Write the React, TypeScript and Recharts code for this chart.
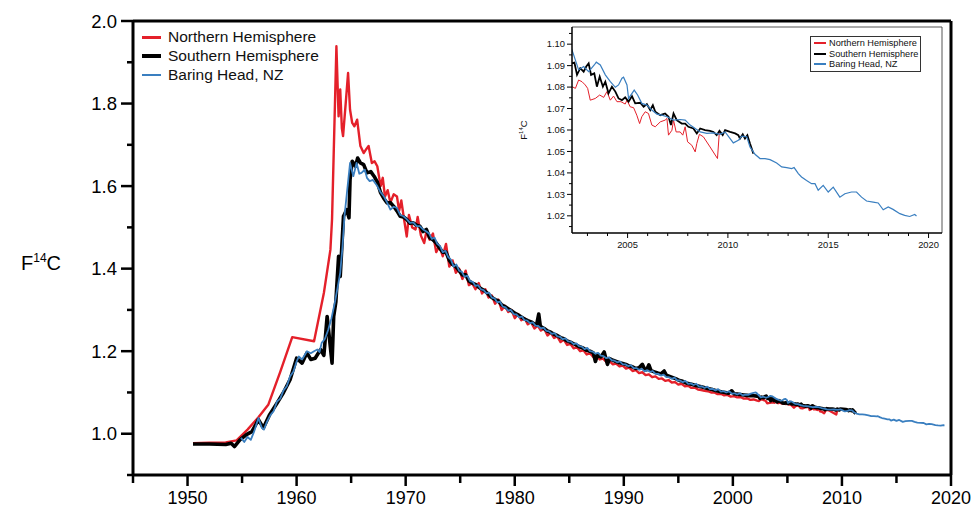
import { LineChart, Line, XAxis, YAxis, ReferenceLine, Legend } from 'recharts';

// [decimal year, F14C]
const northern: [number, number][] = [
  [1950.5, 0.977], [1952, 0.978], [1953.5, 0.979], [1954.5, 0.984], [1955.5, 1.01], [1956.5, 1.04],
  [1957.4, 1.07], [1958.5, 1.15], [1959.6, 1.234], [1961.6, 1.224], [1962.5, 1.341], [1963.1, 1.446],
  [1963.25, 1.52], [1963.65, 1.939], [1963.85, 1.769], [1964.0, 1.834], [1964.15, 1.74], [1964.26, 1.721],
  [1964.5, 1.8], [1964.72, 1.874], [1964.9, 1.785], [1965.1, 1.753], [1965.3, 1.745], [1965.55, 1.761],
  [1965.85, 1.697], [1966.15, 1.68], [1966.4, 1.69], [1966.6, 1.697], [1966.9, 1.656], [1967.15, 1.66],
  [1967.4, 1.648], [1967.7, 1.6], [1967.9, 1.62], [1968.1, 1.575], [1968.35, 1.59], [1968.6, 1.56],
  [1968.9, 1.58], [1969.2, 1.575], [1969.4, 1.54], [1969.6, 1.565], [1969.85, 1.52], [1970.1, 1.478],
  [1970.3, 1.53], [1970.6, 1.5], [1970.9, 1.495], [1971.1, 1.525], [1971.4, 1.48], [1971.7, 1.462],
  [1971.9, 1.49], [1972.2, 1.47], [1972.5, 1.485], [1972.8, 1.44], [1973.1, 1.455], [1973.4, 1.43],
  [1973.7, 1.46], [1974.0, 1.405], [1974.3, 1.42], [1974.6, 1.39], [1974.9, 1.4], [1975.2, 1.375],
  [1975.5, 1.395], [1975.8, 1.36], [1976.1, 1.365], [1976.4, 1.35], [1976.7, 1.365], [1977.0, 1.34],
  [1977.3, 1.35], [1977.6, 1.33], [1977.9, 1.335], [1978.2, 1.315], [1978.5, 1.325], [1978.8, 1.3],
  [1979.1, 1.31], [1979.4, 1.295], [1979.7, 1.3], [1980.0, 1.28], [1980.3, 1.29], [1980.6, 1.275],
  [1980.9, 1.28], [1981.2, 1.265], [1981.5, 1.27], [1981.8, 1.255], [1982.1, 1.262], [1982.4, 1.25],
  [1982.7, 1.255], [1983.0, 1.238], [1983.3, 1.245], [1983.6, 1.232], [1983.9, 1.236], [1984.2, 1.222],
  [1984.5, 1.228], [1984.8, 1.215], [1985.1, 1.218], [1985.4, 1.207], [1985.7, 1.21], [1986.0, 1.2],
  [1986.3, 1.202], [1986.6, 1.192], [1986.9, 1.195], [1987.2, 1.186], [1987.5, 1.188], [1987.8, 1.18],
  [1988.1, 1.182], [1988.4, 1.174], [1988.7, 1.176], [1989.0, 1.168], [1989.3, 1.17], [1989.6, 1.163],
  [1989.9, 1.165], [1990.2, 1.158], [1990.5, 1.16], [1990.8, 1.152], [1991.1, 1.154], [1991.4, 1.147],
  [1991.7, 1.149], [1992.0, 1.142], [1992.3, 1.144], [1992.6, 1.137], [1992.9, 1.139], [1993.2, 1.133],
  [1993.5, 1.134], [1993.8, 1.128], [1994.1, 1.13], [1994.4, 1.124], [1994.7, 1.125], [1995.0, 1.119],
  [1995.3, 1.121], [1995.6, 1.115], [1995.9, 1.116], [1996.2, 1.111], [1996.5, 1.112], [1996.8, 1.107],
  [1997.1, 1.106], [1997.4, 1.104], [1997.7, 1.103], [1998.0, 1.1], [1998.3, 1.1], [1998.6, 1.096],
  [1998.9, 1.097], [1999.2, 1.093], [1999.5, 1.094], [1999.8, 1.09], [2000.1, 1.091], [2000.4, 1.088],
  [2000.7, 1.089], [2001.0, 1.085], [2001.3, 1.086], [2001.6, 1.082], [2001.9, 1.083],
  [2002.23, 1.0802], [2002.4, 1.0794], [2002.56, 1.0833], [2002.73, 1.0825], [2002.89, 1.081],
  [2003.01, 1.0794], [2003.14, 1.0739], [2003.39, 1.0747], [2003.61, 1.0763], [2003.81, 1.0752],
  [2003.97, 1.0779], [2004.14, 1.0739], [2004.3, 1.0758], [2004.47, 1.0732], [2004.67, 1.0732],
  [2004.88, 1.0721], [2004.97, 1.0739], [2005.13, 1.0708], [2005.3, 1.0704], [2005.46, 1.0669],
  [2005.6, 1.063], [2005.71, 1.0662], [2005.88, 1.0685], [2006.04, 1.0677], [2006.21, 1.0623],
  [2006.38, 1.0615], [2006.63, 1.0638], [2006.87, 1.0646], [2006.96, 1.0654], [2007.04, 1.0576],
  [2007.21, 1.0599], [2007.29, 1.0646], [2007.42, 1.0591], [2007.62, 1.0591], [2007.75, 1.0576],
  [2007.87, 1.0615], [2007.99, 1.0545], [2008.2, 1.0529], [2008.37, 1.0498], [2008.45, 1.0537],
  [2008.58, 1.058], [2008.78, 1.0568], [2009.11, 1.0521], [2009.48, 1.0467], [2009.58, 1.0599],
];

const southern: [number, number][] = [
  [1950.5, 0.975], [1952, 0.975], [1953.5, 0.974], [1954.0, 0.977], [1954.3, 0.969], [1954.8, 0.985],
  [1955.4, 0.998], [1955.9, 1.005], [1956.5, 1.034], [1956.95, 1.014], [1957.5, 1.045], [1958.2, 1.074],
  [1958.8, 1.1], [1959.4, 1.131], [1960.0, 1.183], [1960.5, 1.171], [1960.95, 1.196], [1961.3, 1.18],
  [1961.7, 1.183], [1962.2, 1.204], [1962.5, 1.19], [1962.8, 1.284], [1963.25, 1.171], [1963.4, 1.284],
  [1963.6, 1.32], [1963.85, 1.43], [1964.0, 1.381], [1964.3, 1.527], [1964.6, 1.543], [1964.8, 1.523],
  [1964.9, 1.616], [1965.1, 1.66], [1965.4, 1.648], [1965.6, 1.668], [1965.85, 1.656], [1966.15, 1.652],
  [1966.45, 1.632], [1966.8, 1.635], [1967.1, 1.624], [1967.4, 1.61], [1967.7, 1.584], [1968.0, 1.57],
  [1968.3, 1.559], [1968.6, 1.56], [1968.9, 1.551], [1969.2, 1.54], [1969.5, 1.527], [1969.8, 1.525],
  [1970.1, 1.519], [1970.4, 1.51], [1970.7, 1.511], [1971.0, 1.505], [1971.3, 1.503], [1971.6, 1.49],
  [1971.9, 1.495], [1972.2, 1.475], [1972.5, 1.47], [1972.8, 1.462], [1973.1, 1.45], [1973.4, 1.44],
  [1973.7, 1.44], [1974.0, 1.42], [1974.3, 1.41], [1974.6, 1.405], [1974.9, 1.395], [1975.2, 1.385],
  [1975.5, 1.385], [1975.8, 1.37], [1976.1, 1.365], [1976.4, 1.362], [1976.7, 1.355], [1977.0, 1.35],
  [1977.3, 1.345], [1977.6, 1.338], [1977.9, 1.33], [1978.2, 1.325], [1978.5, 1.322], [1978.8, 1.312],
  [1979.1, 1.308], [1979.4, 1.303], [1979.7, 1.298], [1980.0, 1.292], [1980.3, 1.288], [1980.6, 1.283],
  [1980.9, 1.278], [1981.2, 1.274], [1981.5, 1.271], [1981.8, 1.266], [1982.0, 1.263], [1982.2, 1.29],
  [1982.35, 1.26], [1982.7, 1.255], [1983.0, 1.249], [1983.3, 1.246], [1983.6, 1.241], [1983.9, 1.238],
  [1984.2, 1.233], [1984.5, 1.23], [1984.8, 1.225], [1985.1, 1.222], [1985.4, 1.218], [1985.7, 1.214],
  [1986.0, 1.21], [1986.3, 1.207], [1986.6, 1.202], [1986.9, 1.2], [1987.2, 1.196], [1987.4, 1.175],
  [1987.6, 1.192], [1987.9, 1.186], [1988.2, 1.198], [1988.5, 1.168], [1988.7, 1.182], [1989.0, 1.178],
  [1989.3, 1.175], [1989.6, 1.172], [1989.9, 1.17], [1990.2, 1.168], [1990.5, 1.164], [1990.8, 1.162],
  [1991.1, 1.158], [1991.4, 1.16], [1991.7, 1.168], [1991.9, 1.157], [1992.1, 1.155], [1992.3, 1.167],
  [1992.5, 1.153], [1992.8, 1.15], [1993.1, 1.147], [1993.4, 1.145], [1993.7, 1.152], [1993.9, 1.142],
  [1994.2, 1.139], [1994.5, 1.136], [1994.8, 1.133], [1995.1, 1.129], [1995.4, 1.127], [1995.7, 1.123],
  [1996.0, 1.121], [1996.3, 1.119], [1996.6, 1.117], [1996.9, 1.115], [1997.2, 1.113], [1997.5, 1.111],
  [1997.8, 1.109], [1998.1, 1.107], [1998.4, 1.105], [1998.7, 1.103], [1999.0, 1.101], [1999.3, 1.1],
  [1999.6, 1.098], [1999.9, 1.104], [2000.1, 1.097], [2000.4, 1.096], [2000.7, 1.095], [2001.0, 1.094],
  [2001.3, 1.093], [2001.6, 1.092], [2001.9, 1.092],
  [2002.23, 1.0911], [2002.35, 1.0914], [2002.48, 1.0857], [2002.64, 1.0888], [2002.81, 1.0872],
  [2002.94, 1.0896], [2003.06, 1.0911], [2003.18, 1.0857], [2003.34, 1.0864], [2003.47, 1.0802],
  [2003.61, 1.0849], [2003.77, 1.0802], [2003.89, 1.0825], [2004.05, 1.0771], [2004.22, 1.0802],
  [2004.39, 1.0779], [2004.55, 1.0747], [2004.72, 1.0739], [2004.88, 1.0752], [2005.05, 1.0732],
  [2005.22, 1.0758], [2005.38, 1.0724], [2005.63, 1.0727], [2005.8, 1.0708], [2005.96, 1.0721],
  [2006.13, 1.0693], [2006.26, 1.0716], [2006.38, 1.0685], [2006.63, 1.0669], [2006.87, 1.0677],
  [2007.04, 1.0662], [2007.16, 1.0623], [2007.29, 1.0677], [2007.45, 1.0646], [2007.7, 1.063],
  [2007.87, 1.063], [2008.03, 1.0615], [2008.28, 1.0607], [2008.45, 1.0584], [2008.62, 1.0607],
  [2008.86, 1.0599], [2009.11, 1.0596], [2009.28, 1.0591], [2009.44, 1.0576], [2009.58, 1.0596],
  [2009.74, 1.0576], [2009.86, 1.0599], [2010.11, 1.0591], [2010.36, 1.0584], [2010.52, 1.0576],
  [2010.6, 1.056], [2010.74, 1.058], [2010.85, 1.056], [2010.97, 1.0576], [2011.1, 1.0537],
  [2011.27, 1.049],
];

const baringHead: [number, number][] = [
  [1954.9, 0.99], [1955.2, 0.98], [1955.5, 0.992], [1955.8, 0.985], [1956.1, 1.005], [1956.5, 1.038],
  [1956.8, 1.015], [1957.0, 1.01], [1957.3, 1.03], [1957.6, 1.045], [1957.9, 1.055], [1958.2, 1.078],
  [1958.5, 1.085], [1958.8, 1.105], [1959.1, 1.115], [1959.4, 1.139], [1959.7, 1.15], [1960.0, 1.175],
  [1960.2, 1.187], [1960.5, 1.18], [1960.95, 1.2], [1961.3, 1.195], [1961.6, 1.2], [1961.9, 1.204],
  [1962.1, 1.198], [1962.3, 1.22], [1962.6, 1.23], [1962.9, 1.252], [1963.2, 1.28], [1963.5, 1.317],
  [1963.8, 1.36], [1964.0, 1.39], [1964.2, 1.45], [1964.4, 1.53], [1964.6, 1.58], [1964.9, 1.656],
  [1965.2, 1.624], [1965.5, 1.656], [1965.75, 1.63], [1965.95, 1.632], [1966.25, 1.64], [1966.45, 1.62],
  [1966.7, 1.612], [1967.0, 1.615], [1967.4, 1.6], [1967.7, 1.585], [1968.0, 1.575], [1968.3, 1.56],
  [1968.6, 1.543], [1968.9, 1.55], [1969.2, 1.547], [1969.5, 1.53], [1969.8, 1.527], [1970.1, 1.52],
  [1970.4, 1.511], [1970.7, 1.512], [1971.0, 1.503], [1971.3, 1.503], [1971.6, 1.495], [1971.9, 1.49],
  [1972.15, 1.485], [1972.4, 1.472], [1972.65, 1.475], [1972.9, 1.46], [1973.15, 1.455], [1973.4, 1.44],
  [1973.65, 1.443], [1973.9, 1.428], [1974.15, 1.422], [1974.4, 1.405], [1974.65, 1.41], [1974.9, 1.395],
  [1975.15, 1.392], [1975.4, 1.38], [1975.65, 1.383], [1975.9, 1.37], [1976.15, 1.368], [1976.4, 1.358],
  [1976.65, 1.36], [1976.9, 1.35], [1977.15, 1.348], [1977.4, 1.34], [1977.65, 1.342], [1977.9, 1.33],
  [1978.15, 1.328], [1978.4, 1.318], [1978.65, 1.32], [1978.9, 1.308], [1979.15, 1.306], [1979.4, 1.298],
  [1979.65, 1.3], [1979.9, 1.29], [1980.15, 1.289], [1980.4, 1.282], [1980.65, 1.284], [1980.9, 1.275],
  [1981.15, 1.274], [1981.4, 1.268], [1981.65, 1.27], [1981.9, 1.262], [1982.15, 1.261], [1982.4, 1.255],
  [1982.65, 1.257], [1982.9, 1.249], [1983.15, 1.248], [1983.4, 1.242], [1983.65, 1.244], [1983.9, 1.236],
  [1984.15, 1.235], [1984.4, 1.229], [1984.65, 1.231], [1984.9, 1.224], [1985.15, 1.223], [1985.4, 1.217],
  [1985.65, 1.219], [1985.9, 1.212], [1986.15, 1.211], [1986.4, 1.205], [1986.65, 1.208], [1986.9, 1.2],
  [1987.15, 1.199], [1987.4, 1.194], [1987.65, 1.196], [1987.9, 1.189], [1988.15, 1.188], [1988.4, 1.183],
  [1988.65, 1.185], [1988.9, 1.178], [1989.15, 1.177], [1989.4, 1.173], [1989.65, 1.175], [1989.9, 1.168],
  [1990.15, 1.168], [1990.4, 1.164], [1990.65, 1.166], [1990.9, 1.159], [1991.15, 1.159], [1991.4, 1.155],
  [1991.65, 1.157], [1991.9, 1.151], [1992.15, 1.154], [1992.4, 1.15], [1992.65, 1.152], [1992.9, 1.145],
  [1993.15, 1.145], [1993.4, 1.141], [1993.65, 1.143], [1993.9, 1.137], [1994.15, 1.137], [1994.4, 1.133],
  [1994.65, 1.136], [1994.9, 1.129], [1995.15, 1.129], [1995.4, 1.125], [1995.65, 1.128], [1995.9, 1.121],
  [1996.15, 1.122], [1996.4, 1.118], [1996.65, 1.121], [1996.9, 1.114], [1997.15, 1.115], [1997.4, 1.111],
  [1997.65, 1.114], [1997.9, 1.108], [1998.15, 1.109], [1998.4, 1.105], [1998.65, 1.108], [1998.9, 1.102],
  [1999.15, 1.103], [1999.4, 1.1], [1999.65, 1.103], [1999.9, 1.097], [2000.15, 1.098], [2000.4, 1.095],
  [2000.65, 1.098], [2000.9, 1.093], [2001.15, 1.095], [2001.4, 1.094], [2001.65, 1.097], [2001.9, 1.099],
  [2002.1, 1.1], [2002.23, 1.0973], [2002.56, 1.088], [2002.81, 1.0896], [2003.06, 1.0872],
  [2003.34, 1.0903], [2003.44, 1.0916], [2003.64, 1.0903], [2003.89, 1.0857], [2004.14, 1.0825],
  [2004.39, 1.0799], [2004.55, 1.081], [2004.72, 1.0841], [2004.8, 1.0846], [2004.97, 1.081],
  [2005.05, 1.0747], [2005.22, 1.0771], [2005.33, 1.0786], [2005.5, 1.0763], [2005.71, 1.0724],
  [2005.96, 1.0716], [2006.21, 1.0693], [2006.46, 1.0674], [2006.71, 1.0669], [2006.96, 1.0662],
  [2007.29, 1.0646], [2007.62, 1.0649], [2007.87, 1.0646], [2008.12, 1.0623], [2008.37, 1.0607],
  [2008.62, 1.0591], [2008.95, 1.0584], [2009.28, 1.0587], [2009.61, 1.058], [2009.86, 1.0591],
  [2010.11, 1.056], [2010.27, 1.054], [2010.52, 1.0552], [2010.69, 1.0571], [2010.94, 1.0568],
  [2011.1, 1.0521], [2011.35, 1.0487], [2011.6, 1.0467], [2011.85, 1.0467], [2012.1, 1.0462],
  [2012.43, 1.0446], [2012.68, 1.0428], [2012.93, 1.0425], [2013.18, 1.042], [2013.3, 1.0425],
  [2013.51, 1.0397], [2013.67, 1.0381], [2013.92, 1.0365], [2014.17, 1.035], [2014.34, 1.035],
  [2014.5, 1.0319], [2014.75, 1.0342], [2015.0, 1.0311], [2015.25, 1.0334], [2015.58, 1.0287],
  [2015.83, 1.0303], [2016.16, 1.0311], [2016.41, 1.0311], [2016.66, 1.0287], [2016.91, 1.0269],
  [2017.24, 1.0264], [2017.49, 1.026], [2017.74, 1.0228], [2017.99, 1.0241], [2018.23, 1.023],
  [2018.57, 1.021], [2018.81, 1.0202], [2019.06, 1.0197], [2019.31, 1.0206], [2019.4, 1.0199],
];

const mainXTicks = [1945, 1950, 1955, 1960, 1965, 1970, 1975, 1980, 1985, 1990, 1995, 2000, 2005, 2010, 2015, 2020];
const mainYTicks = [0.9, 1.0, 1.1, 1.2, 1.3, 1.4, 1.5, 1.6, 1.7, 1.8, 1.9, 2.0];
const insetXTicks = [2003, 2004, 2005, 2006, 2007, 2008, 2009, 2010, 2011, 2012, 2013, 2014, 2015, 2016, 2017, 2018, 2019, 2020];
const insetYTicks = [1.015, 1.02, 1.025, 1.03, 1.035, 1.04, 1.045, 1.05, 1.055, 1.06, 1.065, 1.07, 1.075, 1.08, 1.085, 1.09, 1.095, 1.1, 1.105];

const RED = '#e4202a';
const BLACK = '#000000';
const BLUE = '#3a7fc0';
const FONT = '"Liberation Sans", Arial, Helvetica, sans-serif';

const series = [
  { name: 'Northern Hemisphere', color: RED, data: northern, main: 2.4, inset: 1, legend: 3 },
  { name: 'Southern Hemisphere', color: BLACK, data: southern, main: 3.6, inset: 1.8, legend: 4 },
  { name: 'Baring Head, NZ', color: BLUE, data: baringHead, main: 1.8, inset: 1.2, legend: 2 },
];

const toPts = (arr: [number, number][]) => arr.map(([x, y]) => ({ x, y }));

function MainYTick({ x, y, payload }: any) {
  const v = payload.value as number;
  const major = Math.round(v * 10) % 2 === 0;
  return (
    <g>
      <line x1={x} x2={x - (major ? 12 : 6)} y1={y} y2={y} stroke="#000" strokeWidth={2.5} />
      {major && (
        <text x={x - 16} y={y + 6.5} textAnchor="end" fontSize={18.5} fill="#000" fontFamily={FONT}>
          {v.toFixed(1)}
        </text>
      )}
    </g>
  );
}

function MainXTick({ x, y, payload }: any) {
  const v = payload.value as number;
  const major = v % 10 === 0;
  return (
    <g>
      <line x1={x} x2={x} y1={y} y2={y + (major ? 11 : 8)} stroke="#000" strokeWidth={2.5} />
      {major && (
        <text x={x} y={y + 29} textAnchor="middle" fontSize={18} fill="#000" fontFamily={FONT}>
          {v}
        </text>
      )}
    </g>
  );
}

function InsetYTick({ x, y, payload }: any) {
  const v = payload.value as number;
  const major = Math.round(v * 1000) % 10 === 0;
  return (
    <g>
      <line x1={x} x2={x - (major ? 5 : 3)} y1={y} y2={y} stroke="#000" strokeWidth={1} />
      {major && (
        <text x={x - 7} y={y + 3.3} textAnchor="end" fontSize={9.4} fill="#111" fontFamily={FONT}>
          {v.toFixed(2)}
        </text>
      )}
    </g>
  );
}

function InsetXTick({ x, y, payload }: any) {
  const v = payload.value as number;
  const major = v % 5 === 0;
  return (
    <g>
      <line x1={x} x2={x} y1={y} y2={y + (major ? 5 : 3)} stroke="#000" strokeWidth={1} />
      {major && (
        <text x={x} y={y + 15} textAnchor="middle" fontSize={9.4} fill="#111" fontFamily={FONT}>
          {v}
        </text>
      )}
    </g>
  );
}

function LegendBox({ rowH, lineW, gap, fontSize, widthKey }: { rowH: number; lineW: number; gap: number; fontSize: number; widthKey: 'legend' | 'inset' }) {
  return (
    <div style={{ fontFamily: FONT, fontSize, color: '#111' }}>
      {series.map(s => (
        <div key={s.name} style={{ display: 'flex', alignItems: 'center', height: rowH, whiteSpace: 'nowrap' }}>
          <span style={{ display: 'inline-block', width: lineW, height: widthKey === 'legend' ? s.legend : s.inset + 0.6, background: s.color, marginRight: gap }} />
          <span>{s.name}</span>
        </div>
      ))}
    </div>
  );
}

export default function App() {
  const insetFrom = 2001.5;
  return (
    <div style={{ position: 'absolute', left: 0, top: 0, width: 973, height: 509, background: '#fff', fontFamily: FONT }}>
      <LineChart width={973} height={509} margin={{ top: 21, right: 22, bottom: 4, left: 73 }}>
        <XAxis
          dataKey="x"
          type="number"
          domain={[1945, 2020]}
          ticks={mainXTicks}
          height={30}
          tickSize={0}
          tickMargin={0}
          tickLine={false}
          axisLine={{ stroke: '#000', strokeWidth: 3 }}
          tick={<MainXTick />}
          interval={0}
        />
        <YAxis
          type="number"
          domain={[0.9, 2.0]}
          ticks={mainYTicks}
          width={60}
          tickSize={0}
          tickMargin={0}
          tickLine={false}
          axisLine={{ stroke: '#000', strokeWidth: 3 }}
          tick={<MainYTick />}
          interval={0}
        />
        <ReferenceLine y={2.0} stroke="#000" strokeWidth={3} />
        <ReferenceLine x={2020} stroke="#000" strokeWidth={3} />
        {series.map(s => (
          <Line
            key={s.name}
            data={toPts(s.data)}
            dataKey="y"
            name={s.name}
            type="linear"
            stroke={s.color}
            strokeWidth={s.main}
            strokeLinejoin="round"
            dot={false}
            isAnimationActive={false}
          />
        ))}
        <Legend
          layout="vertical"
          verticalAlign="middle"
          align="center"
          wrapperStyle={{ left: 142, top: 28, width: 200, height: 57 }}
          content={() => <LegendBox rowH={18.7} lineW={19} gap={7} fontSize={15.5} widthKey="legend" />}
        />
      </LineChart>

      <div style={{ position: 'absolute', left: 21, top: 252, fontSize: 20, fontFamily: FONT, color: '#000' }}>
        F<sup style={{ fontSize: 12, verticalAlign: 0, position: 'relative', top: -8 }}>14</sup>C
      </div>

      <div style={{ position: 'absolute', left: 500, top: 10, width: 460, height: 250 }}>
        <LineChart width={460} height={250} margin={{ top: 17, right: 18, bottom: 7, left: 32 }}>
          <XAxis
            dataKey="x"
            type="number"
            domain={[2002.23, 2020.67]}
            allowDataOverflow
            ticks={insetXTicks}
            height={20}
            tickSize={0}
            tickMargin={0}
            tickLine={false}
            axisLine={{ stroke: '#000', strokeWidth: 1.5 }}
            tick={<InsetXTick />}
            interval={0}
          />
          <YAxis
            type="number"
            domain={[1.012, 1.108]}
            allowDataOverflow
            ticks={insetYTicks}
            width={40}
            tickSize={0}
            tickMargin={0}
            tickLine={false}
            axisLine={{ stroke: '#000', strokeWidth: 1.5 }}
            tick={<InsetYTick />}
            interval={0}
          />
          <ReferenceLine y={1.108} stroke="#555" strokeWidth={1} />
          <ReferenceLine x={2020.67} stroke="#555" strokeWidth={1} />
          {series.map(s => (
            <Line
              key={s.name}
              data={toPts(s.data.filter(d => d[0] >= insetFrom))}
              dataKey="y"
              name={s.name}
              type="linear"
              stroke={s.color}
              strokeWidth={s.inset}
              dot={false}
              isAnimationActive={false}
            />
          ))}
          <Legend
            layout="vertical"
            verticalAlign="middle"
            align="center"
            wrapperStyle={{ left: 310, top: 26, width: 111, height: 36, border: '1px solid #333', background: '#fff', boxSizing: 'border-box', paddingTop: 1 }}
            content={() => (
              <div style={{ paddingLeft: 3 }}>
                <LegendBox rowH={10.5} lineW={12} gap={3} fontSize={9.2} widthKey="inset" />
              </div>
            )}
          />
        </LineChart>
        <div
          style={{
            position: 'absolute',
            left: 23,
            top: 120,
            transform: 'translate(-50%, -50%) rotate(-90deg)',
            fontSize: 9.5,
            fontFamily: FONT,
            color: '#111',
            whiteSpace: 'nowrap',
          }}
        >
          F<sup style={{ fontSize: 6, verticalAlign: 0, position: 'relative', top: -4 }}>14</sup>C
        </div>
      </div>
    </div>
  );
}
